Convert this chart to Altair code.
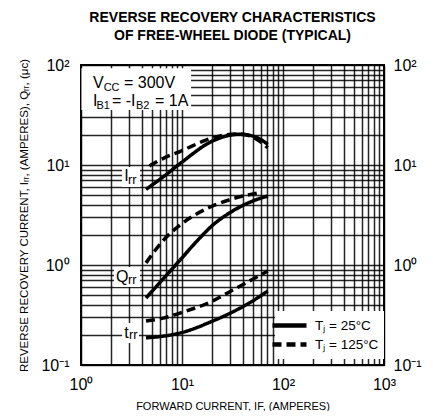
import altair as alt
import pandas as pd

FONT = "Liberation Sans"

# ---- data (forward current IF in A) ----
irr25_x = [4.40, 6.68, 9.77, 20.1, 30.6, 35.6, 50.1, 56.2, 70.6]
irr25_y = [5.70, 7.76, 10.5, 17.4, 19.95, 20.3, 19.5, 18.7, 16.1]
irr125_x = [4.75, 6.68, 9.77, 20.1, 30.6, 38.4, 58.3, 70.6]
irr125_y = [9.77, 11.8, 13.8, 18.7, 20.3, 20.4, 17.4, 14.9]

qrr25_x = [4.40, 6.63, 9.77, 14.1, 20.2, 30.6, 50.4, 70.9]
qrr25_y = [0.468, 0.741, 1.148, 1.74, 2.51, 3.39, 4.37, 4.9]
qrr125_x = [4.40, 6.68, 9.77, 20.1, 30.6, 58.3]
qrr125_y = [1.05, 1.81, 2.55, 3.89, 4.54, 5.3]

trr25_x = [4.40, 6.68, 9.77, 20.1, 30.6, 50.1, 70.6]
trr25_y = [0.187, 0.195, 0.21, 0.275, 0.333, 0.437, 0.55]
trr125_x = [4.40, 6.68, 9.77, 20.1, 30.6, 50.1, 70.6]
trr125_y = [0.275, 0.296, 0.333, 0.437, 0.55, 0.72, 0.87]

T25 = "Tⱼ = 25°C"
T125 = "Tⱼ = 125°C"

series = [
    ("Irr", T25, irr25_x, irr25_y),
    ("Irr", T125, irr125_x, irr125_y),
    ("Qrr", T25, qrr25_x, qrr25_y),
    ("Qrr", T125, qrr125_x, qrr125_y),
    ("trr", T25, trr25_x, trr25_y),
    ("trr", T125, trr125_x, trr125_y),
]
rows = []
for name, temp, xs, ys in series:
    for i, (a, b) in enumerate(zip(xs, ys)):
        rows.append({"x": a, "y": b, "curve": name + temp, "temp": temp, "order": i})
df = pd.DataFrame(rows)

grid_x = [m * 10 ** k for k in range(0, 3) for m in range(1, 10)] + [1000]
grid_y = [round(m * 10 ** k, 4) for k in range(-1, 2) for m in range(1, 10)] + [100]

xlab = "datum.value==1?'10⁰':datum.value==10?'10¹':datum.value==100?'10²':datum.value==1000?'10³':''"
ylab = "datum.value==0.1?'10⁻¹':datum.value==1?'10⁰':datum.value==10?'10¹':datum.value==100?'10²':''"

xscale = alt.Scale(type="log", domain=[1, 1000], nice=False)
yscale = alt.Scale(type="log", domain=[0.1, 100], nice=False)

# annotation texts (in data coordinates), main letters and subscripts
ann_text = ["V", "CC", "= 300V", "I", "B1", "= -I", "B2", "= 1A",
            "I", "rr", "Q", "rr", "t", "rr"]
ann_x = [1.315, 1.677, 2.666, 1.315, 1.424, 2.027, 3.50, 5.40,
         2.68, 2.92, 2.22, 2.92, 2.68, 2.99]
ann_y = [59.3, 55.0, 59.3, 38.9, 36.1, 38.9, 36.1, 38.9,
         6.92, 6.50, 0.681, 0.650, 0.1875, 0.1807]
ann_size = [16, 11, 16, 16, 11, 16, 11, 16,
            16, 13, 16, 13, 16, 13]
ann = pd.DataFrame({"t": ann_text, "x": ann_x, "y": ann_y, "s": ann_size})

# white boxes behind the labels
box_x = [1.01, 2.55, 2.12, 2.55]
box_x2 = [12.3, 3.84, 3.84, 3.75]
box_y = [93, 9.55, 0.955, 0.263]
box_y2 = [35.5, 6.03, 0.603, 0.166]
boxes = pd.DataFrame({"x": box_x, "x2": box_x2, "y": box_y, "y2": box_y2})

xaxis = alt.Axis(values=grid_x, labelExpr=xlab, grid=True, ticks=False, domain=False,
                 labelFontSize=16, labelFont=FONT, labelColor="black", labelPadding=11,
                 labelFlush=False, labelOverlap=False,
                 title="FORWARD CURRENT, IF, (AMPERES)", titleFont=FONT, titleFontSize=11,
                 titleFontWeight="normal", titlePadding=8, titleColor="black")
yaxis = alt.Axis(values=grid_y, labelExpr=ylab, grid=True, ticks=False, domain=False,
                 labelFontSize=16, labelFont=FONT, labelColor="black", labelPadding=12,
                 labelOverlap=False, labelFlush=False,
                 title="REVERSE RECOVERY CURRENT, Iᵣᵣ, (AMPERES), Qᵣᵣ, (μc)",
                 titleFont=FONT, titleFontSize=11.5, titleFontWeight="normal",
                 titlePadding=11.5, titleColor="black")

rect = alt.Chart(boxes).mark_rect(color="white").encode(
    x=alt.X("x:Q", scale=xscale, axis=xaxis), x2="x2:Q",
    y=alt.Y("y:Q", scale=yscale, axis=yaxis), y2="y2:Q")

lines = alt.Chart(df).mark_line(color="black", strokeWidth=3.5, interpolate="monotone").encode(
    x=alt.X("x:Q", scale=xscale),
    y=alt.Y("y:Q", scale=yscale),
    detail="curve:N",
    order="order:Q",
    strokeDash=alt.StrokeDash("temp:N",
        scale=alt.Scale(domain=[T25, T125], range=[[1, 0], [9, 5]]),
        legend=alt.Legend(title=None, orient="none", legendX=194, legendY=246,
                          fillColor="white", padding=5,
                          symbolType="M-2.43,0H2.43", symbolSize=196,
                          symbolStrokeWidth=4.5, symbolStrokeColor="black",
                          symbolFillColor="black",
                          labelFont=FONT, labelFontSize=13.5, labelColor="black",
                          rowPadding=0, labelOffset=16)),
)

texts = alt.Chart(ann).mark_text(font=FONT, color="black", baseline="alphabetic", align="left").encode(
    x=alt.X("x:Q", scale=xscale), y=alt.Y("y:Q", scale=yscale),
    text="t:N", size=alt.Size("s:Q", scale=None))

inner = alt.layer(rect, lines, texts)

right = alt.Chart(ann.iloc[:1]).mark_point(opacity=0).encode(
    x=alt.X("x:Q", scale=xscale),
    y=alt.Y("y:Q", scale=yscale,
            axis=alt.Axis(orient="right", values=[0.1, 1, 10, 100], labelExpr=ylab, grid=False,
                          ticks=False, domain=False, labelFontSize=16, labelFont=FONT,
                          labelColor="black", labelPadding=9, labelFlush=False,
                          labelOverlap=False, title=None)))

chart = alt.layer(inner, right).resolve_scale(y="independent").properties(
    width=303, height=300,
    padding={"left": 10, "top": 2, "right": 0, "bottom": 0},
    title=alt.TitleParams(["REVERSE RECOVERY CHARACTERISTICS", "OF FREE-WHEEL DIODE (TYPICAL)"],
                          font=FONT, fontSize=14, fontWeight="bold", anchor="middle",
                          frame="group", offset=14, lineHeight=18.5, color="black"),
).configure_view(stroke="black", strokeWidth=2).configure_axis(
    gridColor="black", gridOpacity=0.85, gridWidth=1.5)

chart.save("out.html", embed_options={"renderer": "svg", "actions": False})
